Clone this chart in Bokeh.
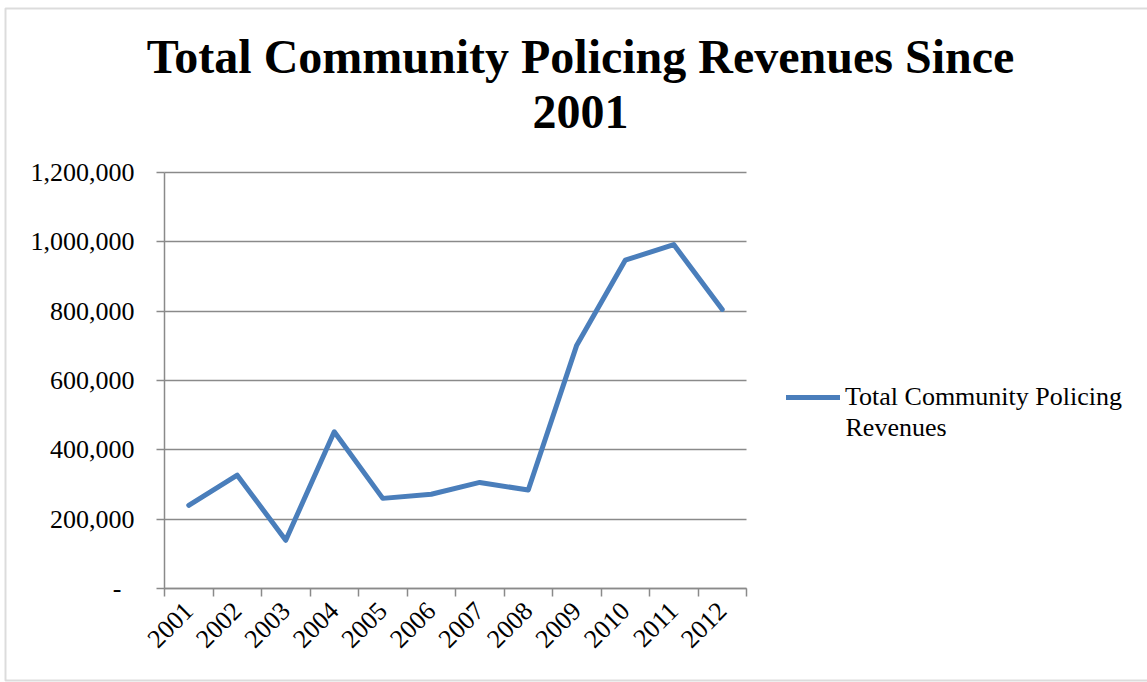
import math
from bokeh.plotting import figure
from bokeh.models import (FixedTicker, Label, Legend, LegendItem, BoxAnnotation,
                          Range1d, ColumnDataSource)
from bokeh.embed import file_html
from bokeh.resources import INLINE

# ---- data ----
years = ["2001", "2002", "2003", "2004", "2005", "2006",
         "2007", "2008", "2009", "2010", "2011", "2012"]
revenues = [240000, 327000, 139000, 452000, 260000, 272000,
            306000, 284000, 702000, 947000, 992000, 805000]
y_ticks = [0, 200000, 400000, 600000, 800000, 1000000, 1200000]
y_tick_labels = ["-\u2002", "200,000", "400,000", "600,000", "800,000", "1,000,000", "1,200,000"]
title_lines = ["Total Community Policing Revenues Since", "2001"]
legend_lines = ["Total Community Policing", "Revenues"]

FONT = "Liberation Serif"
GRAY = "#8a8a8a"
BLUE = "#4a7ebb"

W, H = 1147, 682
# plot-area placement (pixels)
PL, PR, PT, PB = 164, 746, 172, 588
n = len(years)
y_max = y_ticks[-1]
xs = (PR - PL) / n            # px per category
ys = (PB - PT) / y_max        # px per unit value
x_range = Range1d(-PL / xs, n + (W - PR) / xs)
y_range = Range1d(-(H - PB) / ys, y_max + PT / ys)

x_pos = [i + 0.5 for i in range(n)]
x_bounds = list(range(n + 1))
src = ColumnDataSource(dict(x=x_pos, y=revenues))

p = figure(width=W, height=H, output_backend="svg", toolbar_location=None,
           x_range=x_range, y_range=y_range, min_border=0)
p.outline_line_color = None
p.background_fill_color = "white"
p.border_fill_color = "white"

# grid
p.xgrid.visible = False
p.ygrid.ticker = FixedTicker(ticks=y_ticks)
p.ygrid.cross_bounds = (0, n)
p.ygrid.grid_line_color = GRAY
p.ygrid.grid_line_width = 1.5

# y axis
ya = p.yaxis[0]
ya.fixed_location = 0
ya.bounds = (0, y_max)
ya.ticker = FixedTicker(ticks=y_ticks)
ya.major_label_overrides = dict(zip(y_ticks, y_tick_labels))
ya.axis_line_color = GRAY
ya.axis_line_width = 1.5
ya.major_tick_line_color = GRAY
ya.major_tick_line_width = 1.5
ya.major_tick_out = 8
ya.major_tick_in = 0
ya.minor_tick_line_color = None
ya.major_label_standoff = 22
ya.major_label_text_font = FONT
ya.major_label_text_font_size = "26px"
ya.major_label_text_color = "black"

# x axis
xa = p.xaxis[0]
xa.fixed_location = 0
xa.bounds = (0, n)
xa.ticker = FixedTicker(ticks=x_pos, minor_ticks=x_bounds)
xa.major_label_overrides = dict(zip(x_pos, years))
xa.axis_line_color = GRAY
xa.axis_line_width = 1.5
xa.major_tick_out = 0
xa.major_tick_in = 0
xa.major_tick_line_color = None
xa.minor_tick_line_color = GRAY
xa.minor_tick_line_width = 1.5
xa.minor_tick_out = 8
xa.minor_tick_in = 0
xa.major_label_orientation = math.pi / 4
xa.major_label_standoff = 10
xa.major_label_text_font = FONT
xa.major_label_text_font_size = "26px"
xa.major_label_text_color = "black"

# series
r = p.line("x", "y", source=src, line_color=BLUE, line_width=5,
           line_join="round", line_cap="round")

# legend
legend = Legend(items=[LegendItem(label=legend_lines[0], renderers=[r])],
                location=(786, 269), label_text_font=FONT,
                label_text_font_size="26px", label_text_color="black",
                glyph_width=54, glyph_height=32, label_height=32,
                label_standoff=5, padding=0, margin=0, spacing=0,
                border_line_color=None, background_fill_alpha=0)
p.add_layout(legend)
p.add_layout(Label(x=845, y=H - 427, x_units="screen", y_units="screen",
                   text=legend_lines[1], text_font=FONT, text_font_size="26px",
                   text_align="left", text_baseline="alphabetic", text_color="black"))

# title
for txt, base in zip(title_lines, [56, 111]):
    p.add_layout(Label(x=580, y=H - base, x_units="screen", y_units="screen",
                       text=txt, text_font=FONT, text_font_size="48px",
                       text_font_style="bold", text_align="center",
                       text_baseline="alphabetic", text_color="black"))

# chart border
p.add_layout(BoxAnnotation(left=5, right=W + 20, top=H - 8, bottom=H - 680,
                           left_units="screen", right_units="screen",
                           top_units="screen", bottom_units="screen",
                           fill_alpha=0, line_color=GRAY, line_width=2))

open("out.html", "w").write(file_html(p, INLINE))
